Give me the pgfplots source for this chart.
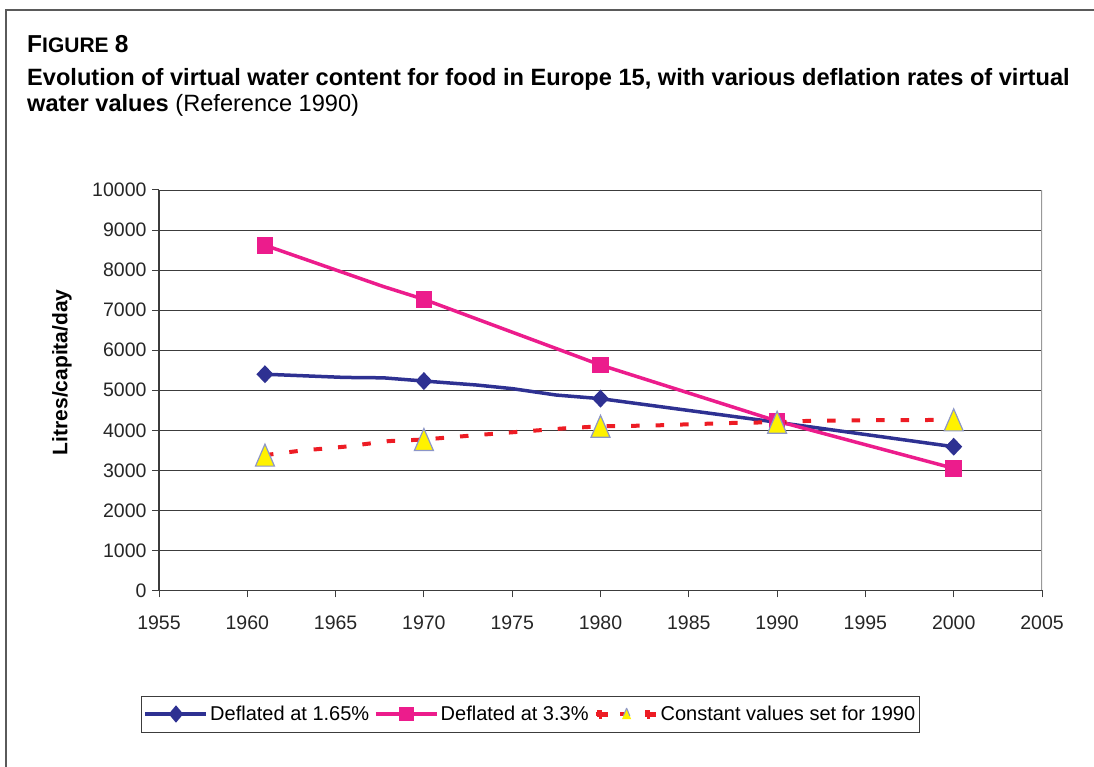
\documentclass[border=0pt]{standalone}
\usepackage{pgfplots}
\pgfplotsset{compat=1.18}
\usepackage{fontspec}
\setmainfont{Liberation Sans}
\definecolor{cBlue}{HTML}{2E3192}
\definecolor{cPink}{HTML}{EC1C8C}
\definecolor{cRed}{HTML}{ED1C24}
\definecolor{cYel}{HTML}{FFF200}
\definecolor{cEdge}{HTML}{8C96C8}
\definecolor{cGrid}{HTML}{3C3C3C}
\definecolor{cFrame}{HTML}{5A5A5A}
\pgfdeclareplotmark{xdia}{\pgfpathmoveto{\pgfqpoint{0pt}{9pt}}\pgfpathlineto{\pgfqpoint{8.5pt}{0pt}}\pgfpathlineto{\pgfqpoint{0pt}{-9pt}}\pgfpathlineto{\pgfqpoint{-8.5pt}{0pt}}\pgfpathclose\pgfusepathqfill}
\pgfdeclareplotmark{xsq}{\pgfpathrectangle{\pgfqpoint{-8.3pt}{-8.3pt}}{\pgfqpoint{16.6pt}{16.6pt}}\pgfusepathqfill}
\pgfdeclareplotmark{xtri}{\pgfpathmoveto{\pgfqpoint{0pt}{11pt}}\pgfpathlineto{\pgfqpoint{9.5pt}{-11pt}}\pgfpathlineto{\pgfqpoint{-9.5pt}{-11pt}}\pgfpathclose\pgfusepathqfillstroke}
\begin{document}
\begin{tikzpicture}[x=1pt,y=1pt]
\useasboundingbox (0,0) rectangle (1094,767);
\draw[cFrame, line width=2pt] (6,-5) -- (6,757) -- (1100,757);
\node[anchor=base west, inner sep=0] at (27,714) {\bfseries{\fontsize{24.5}{28}\selectfont F}{\fontsize{21}{24}\selectfont IGURE\,} {\fontsize{24.5}{28}\selectfont 8}};
\node[anchor=base west, inner sep=0] at (27,681) {\fontsize{23.6}{28}\selectfont\bfseries Evolution of virtual water content for food in Europe 15, with various deflation rates of virtual};
\node[anchor=base west, inner sep=0] at (27,655) {\fontsize{23.6}{28}\selectfont\textbf{water values} (Reference 1990)};
\begin{axis}[
  at={(159pt,176.5pt)}, anchor=south west,
  width=883pt, height=400.5pt, scale only axis,
  xmin=1955, xmax=2005, ymin=0, ymax=10000,
  xtick={1955,1960,...,2005}, ytick={0,1000,...,10000},
  scaled y ticks=false, scaled x ticks=false,
  axis lines=left, axis line style={-, cGrid, line width=1.2pt},
  tick align=outside, major tick length=7pt, tick style={cGrid, line width=1pt},
  ymajorgrids, grid style={cGrid, line width=0.9pt},
  /pgf/number format/1000 sep={}, /pgf/number format/assume math mode=true,
  tick label style={font=\fontsize{19.5}{23}\selectfont, text=black!85},
  xticklabel style={yshift=-15pt},
  yticklabel style={xshift=-2pt},
  ylabel={\textbf{Litres/capita/day}},
  ylabel style={font=\fontsize{21}{25}\selectfont, at={(axis description cs:-0.1099,0.545)}, anchor=center},
  legend style={at={(0.4207,-0.3084)}, anchor=center, draw=cGrid, line width=1pt,
    font=\fontsize{20}{24}\selectfont, inner xsep=2pt, inner ysep=8pt,
    /tikz/every even column/.append style={column sep=3pt}},
  legend columns=3, legend cell align=left,
]
\draw[black!40, line width=1.2pt] (rel axis cs:1,0) -- (rel axis cs:1,1);
\addplot[cBlue, line width=3.5pt, mark=xdia, mark indices={1,4,8,9,10}, mark options={fill=cBlue, solid},
  legend image code/.code={\draw[cBlue, line width=3.5pt] (0pt,0pt) -- (61pt,0pt);
    \fill[cBlue] (30.5pt,6pt) -- (35.5pt,0pt) -- (30.5pt,-6pt) -- (25.5pt,0pt) -- cycle;}]
  coordinates {(1961,5400) (1965.5,5320) (1967.7,5310) (1970,5230) (1973,5130) (1975,5040) (1977.5,4880) (1980,4790) (1990,4200) (2000,3590)};
\addlegendentry{Deflated at 1.65\%}
\addplot[cPink, line width=3.5pt, mark=xsq, mark indices={1,3,4,5,6}, mark options={fill=cPink, solid},
  legend image code/.code={\draw[cPink, line width=3.5pt] (0pt,0pt) -- (61pt,0pt);
    \fill[cPink] (25pt,-5.5pt) rectangle (36pt,5.5pt);}]
  coordinates {(1961,8620) (1967.7,7590) (1970,7270) (1980,5630) (1990,4230) (2000,3050)};
\addlegendentry{Deflated at 3.3\%}
\addplot[cRed, line width=4pt, dash pattern=on 8.5pt off 16pt, mark=xtri, mark indices={1,5,9,13,16},
  mark options={fill=cYel, draw=cEdge, line width=1.2pt, solid},
  legend image code/.code={\path (0pt,0pt) -- (61pt,0pt);
    \fill[cRed] (3pt,-2.5pt) rectangle (12pt,2.5pt);
    \filldraw[fill=cYel, draw=cEdge, line width=1pt] (31pt,6pt) -- (35.5pt,-5pt) -- (26.5pt,-5pt) -- cycle;
    \fill[cRed] (51pt,-2.5pt) rectangle (60pt,2.5pt);}]
  coordinates {(1961,3380) (1963,3490) (1965.5,3590) (1968,3730) (1970,3770) (1973,3880) (1975,3950) (1978,4050) (1980,4100) (1983,4120) (1985,4150) (1988,4190) (1990,4200) (1992,4240) (1995,4250) (2000,4260)};
\addlegendentry{Constant values set for 1990}
\end{axis}
\end{tikzpicture}
\end{document}
